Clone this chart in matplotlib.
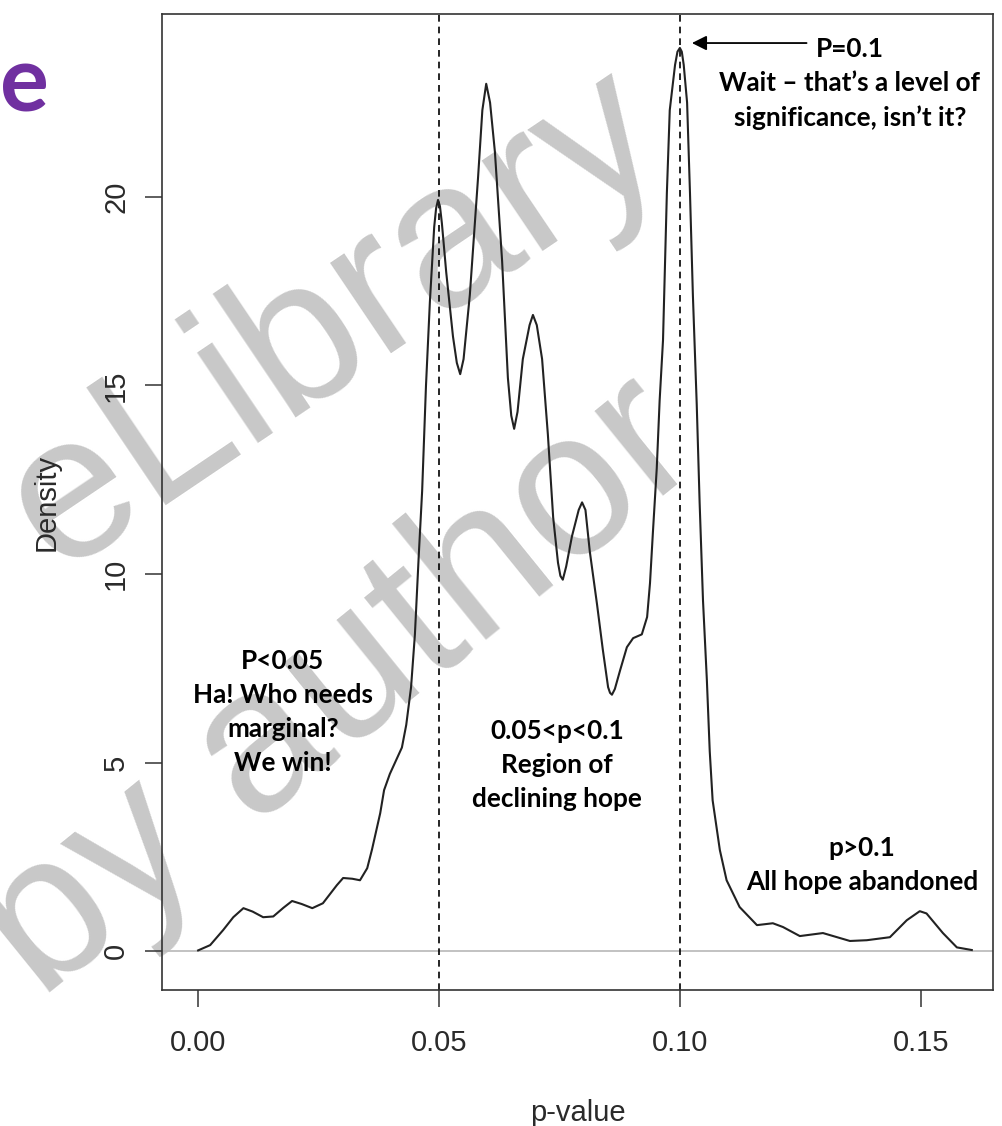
import matplotlib
matplotlib.use("Agg")
import matplotlib.pyplot as plt

# density curve
p_vals = [0.0, 0.0025, 0.0052, 0.0073, 0.0094, 0.0113, 0.0135, 0.0156, 0.0177, 0.0195,
          0.0215, 0.0237, 0.0259, 0.0288, 0.0301, 0.0320, 0.0336, 0.0351, 0.0361, 0.0378,
          0.0386, 0.0398, 0.0423, 0.0432, 0.0442, 0.0450, 0.0458, 0.0465, 0.0473, 0.0481,
          0.0490, 0.0494, 0.0498, 0.0502, 0.0506, 0.0515, 0.0529, 0.0537, 0.0544, 0.0551,
          0.0564, 0.0581, 0.0590, 0.0598, 0.0606, 0.0616, 0.0631, 0.0643, 0.0650, 0.0656,
          0.0663, 0.0674, 0.0688, 0.0695, 0.0703, 0.0714, 0.0726, 0.0737, 0.0747, 0.0752,
          0.0757, 0.0764, 0.0776, 0.0790, 0.0797, 0.0804, 0.0813, 0.0828, 0.0840, 0.0851,
          0.0855, 0.0859, 0.0865, 0.0876, 0.0890, 0.0903, 0.0921, 0.0932, 0.0938, 0.0944,
          0.0952, 0.0958, 0.0965, 0.0973, 0.0979, 0.0990, 0.0995, 0.1000, 0.1004, 0.1008,
          0.1015, 0.1021, 0.1027, 0.1035, 0.1041, 0.1048, 0.1056, 0.1062, 0.1068, 0.1083,
          0.1097, 0.1124, 0.1160, 0.1193, 0.1214, 0.1249, 0.1297, 0.1353, 0.1388, 0.1436,
          0.1471, 0.1498, 0.1512, 0.1546, 0.1575, 0.1606]
density = [0.02, 0.16, 0.56, 0.90, 1.14, 1.05, 0.90, 0.92, 1.15, 1.33,
           1.25, 1.14, 1.27, 1.75, 1.94, 1.92, 1.88, 2.20, 2.70, 3.66,
           4.27, 4.70, 5.40, 6.00, 7.00, 8.40, 10.5, 12.2, 15.0, 17.2,
           19.2, 19.7, 19.92, 19.75, 19.3, 18.0, 16.3, 15.6, 15.3, 15.7,
           17.4, 20.5, 22.3, 23.0, 22.5, 21.2, 18.3, 15.2, 14.2, 13.85,
           14.3, 15.7, 16.6, 16.87, 16.6, 15.7, 13.7, 11.5, 10.3, 9.95,
           9.85, 10.2, 11.0, 11.7, 11.9, 11.7, 10.6, 9.2, 8.0, 7.0,
           6.85, 6.8, 6.95, 7.45, 8.06, 8.3, 8.4, 8.86, 9.76, 11.1,
           12.8, 14.6, 16.2, 20.1, 22.3, 23.5, 23.85, 23.95, 23.85, 23.5,
           22.5, 20.1, 17.4, 14.5, 11.9, 9.3, 7.2, 5.3, 4.0, 2.68,
           1.88, 1.17, 0.69, 0.74, 0.64, 0.40, 0.48, 0.27, 0.29, 0.37,
           0.82, 1.06, 1.00, 0.48, 0.10, 0.03]

x_ticks = [0.0, 0.05, 0.10, 0.15]
x_tick_labels = ["0.00", "0.05", "0.10", "0.15"]
y_ticks = [0, 5, 10, 15, 20]
cutoffs = [0.05, 0.10]

notes = [
    (0.0176, 6.33, "P<0.05\nHa! Who needs\nmarginal?\nWe win!"),
    (0.0745, 4.93, "0.05<p<0.1\nRegion of\ndeclining hope"),
    (0.1378, 2.28, "p>0.1\nAll hope abandoned"),
    (0.1353, 23.0, "P=0.1\nWait \u2013 that\u2019s a level of\nsignificance, isn\u2019t it?"),
]

W, H = 1003, 1126
fig = plt.figure(figsize=(W / 100, H / 100), dpi=100)
ax = fig.add_axes([162 / W, 1 - 990 / H, (993 - 162) / W, (990 - 14) / H])
ax.set_zorder(1)
ax.patch.set_alpha(0)

ink = "#222222"
rfont = "Liberation Sans"

ax.plot(p_vals, density, color=ink, lw=1.5, zorder=3)
ax.axhline(0, color="#bdbdbd", lw=1.3, zorder=1)
for c in cutoffs:
    ax.axvline(c, color="black", lw=1.2, ls=(0, (4, 3)), zorder=2)

ax.set_xlim(-0.0075, 0.165)
ax.set_ylim(-1.03, 24.85)
ax.set_xticks(x_ticks)
ax.set_xticklabels(x_tick_labels)
ax.set_yticks(y_ticks)
ax.set_yticklabels([str(v) for v in y_ticks], rotation=90, va="center")
ax.tick_params(axis="both", length=12, width=1.1, color="#333333",
               labelsize=21, labelcolor="#2a2a2a")
ax.tick_params(axis="x", pad=16)
ax.tick_params(axis="y", pad=11)
for lab in ax.get_xticklabels() + ax.get_yticklabels():
    lab.set_family(rfont)
for s in ax.spines.values():
    s.set_linewidth(1.2)
    s.set_color("#333333")

ax.set_xlabel("p-value", family=rfont, fontsize=21, color="#2a2a2a", labelpad=30)
ax.set_ylabel("Density", family=rfont, fontsize=21, color="#2a2a2a", labelpad=30)

for x, y, txt in notes:
    ax.text(x, y, txt, ha="center", va="center", family="Lato", weight="bold",
            fontsize=18.8, linespacing=1.5, color="black", zorder=4)

ax.annotate("", xy=(0.1025, 24.08), xytext=(0.1263, 24.08),
            arrowprops=dict(arrowstyle="-|>", color="black", lw=1.3,
                            mutation_scale=22, shrinkA=0, shrinkB=0))

# watermark and cropped title letter
fig.text(335 / W, 1 - 322 / H, "eLibrary", fontsize=148, family=rfont,
         color="#c8c8c8", rotation=34, ha="center", va="center",
         rotation_mode="anchor", zorder=0)
fig.text(340 / W, 1 - 690 / H, "by author", fontsize=148, family=rfont,
         color="#c8c8c8", rotation=39, ha="center", va="center",
         rotation_mode="anchor", zorder=0)
fig.text(0.0, 1 - 86 / H, "e", fontsize=66, family="Lato", weight="bold",
         color="#7030a0", ha="left", va="center")

fig.savefig("out.png", dpi=100)
